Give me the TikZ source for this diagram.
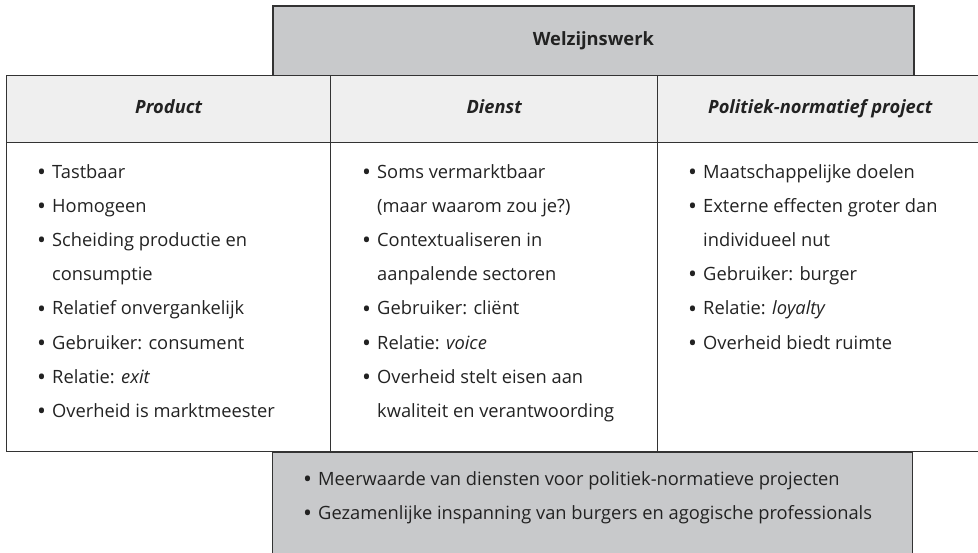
\documentclass[tikz,border=0pt]{standalone}
\usepackage{fontspec}
\setmainfont{Open Sans}
\usetikzlibrary{calc,positioning}
\definecolor{donker}{HTML}{C8C9CB}
\definecolor{licht}{HTML}{EFEFEF}
\definecolor{rand}{HTML}{333333}
\definecolor{inkt}{HTML}{222222}
\newcommand{\bul}{\makebox[15pt][l]{\raisebox{-2.2pt}{\scalebox{1.3}{\textbullet}}}}
\newcommand{\verder}{\hspace*{15pt}}

\begin{document}
\begin{tikzpicture}[x=1pt,y=-1pt,
    cel/.style={rectangle,draw=rand,line width=1.4pt,inner sep=0pt,anchor=north west,text=inkt,text height=13pt,text depth=4pt},
    kop/.style={cel,fill=licht,font=\fontsize{18.3}{22}\selectfont\bfseries\itshape},
    lijst/.style={anchor=north west,inner sep=0pt,align=left,text=inkt,font=\fontsize{18.3}{34.2}\selectfont}
  ]
    \useasboundingbox (0,0) rectangle (978,553);
    \node (M) at (272,452) [cel,fill=donker,minimum width=640,minimum height=120] {};
    \node (W) at (272,5) [cel,fill=donker,line width=1.8pt,minimum width=641,minimum height=70,font=\fontsize{18.3}{22}\selectfont\bfseries] {Welzijnswerk};
    \node (hP) at (6,75) [kop,minimum width=324,minimum height=67] {Product};
    \node (hD) at (330,75) [kop,minimum width=327,minimum height=67] {Dienst};
    \node (hN) at (657,75) [kop,minimum width=325,minimum height=67] {Politiek-normatief project};
    \node (bP) at (6,142) [cel,minimum width=324,minimum height=309] {};
    \node (bD) at (330,142) [cel,minimum width=327,minimum height=309] {};
    \node (bN) at (657,142) [cel,minimum width=325,minimum height=309] {};

    \node (tP) at (37,164) [lijst] {\bul Tastbaar\\\bul Homogeen\\\bul Scheiding productie en\\\verder consumptie\\\bul Relatief onvergankelijk\\\bul Gebruiker: consument\\\bul Relatie: \textit{exit}\\\bul Overheid is marktmeester};
    \node (tD) at (362,164) [lijst] {\bul Soms vermarktbaar\\\verder (maar waarom zou je?)\\\bul Contextualiseren in\\\verder aanpalende sectoren\\\bul Gebruiker: cliënt\\\bul Relatie: \textit{voice}\\\bul Overheid stelt eisen aan\\\verder kwaliteit en verantwoording};
    \node (tN) at (688,164) [lijst] {\bul Maatschappelijke doelen\\\bul Externe effecten groter dan\\\verder individueel nut\\\bul Gebruiker: burger\\\bul Relatie: \textit{loyalty}\\\bul Overheid biedt ruimte};
    \node (tM) at (303,471) [lijst] {\bul Meerwaarde van diensten voor politiek-normatieve projecten\\\bul Gezamenlijke inspanning van burgers en agogische professionals};
\end{tikzpicture}
\end{document}
